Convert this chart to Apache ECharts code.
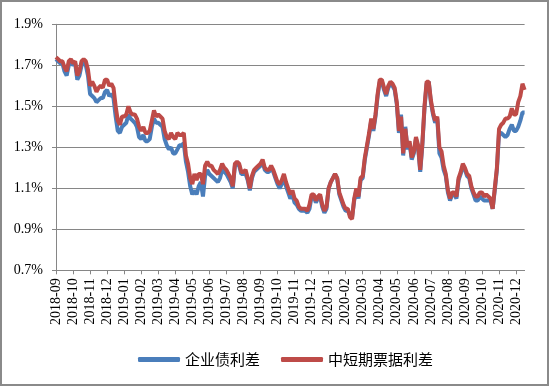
<!DOCTYPE html>
<html>
<head>
<meta charset="utf-8">
<script src="https://cdn.jsdelivr.net/npm/echarts@6/dist/echarts.min.js"></script>
<style>
html,body{margin:0;padding:0;background:#fff;}
#wrap{position:relative;width:549px;height:386px;}
#chart{position:absolute;left:0;top:0;width:549px;height:386px;}
#frame{position:absolute;left:0;top:0;width:549px;height:386px;box-sizing:border-box;border:2px solid #8a8a8a;pointer-events:none;}
</style>
</head>
<body>
<div id="wrap"><div id="chart"></div><div id="frame"></div></div>
<script>
// Month tick labels (x-axis)
const months = ['2018-09','2018-10','2018-11','2018-12','2019-01','2019-02','2019-03','2019-04',
  '2019-05','2019-06','2019-07','2019-08','2019-09','2019-10','2019-11','2019-12',
  '2020-01','2020-02','2020-03','2020-04','2020-05','2020-06','2020-07','2020-08',
  '2020-09','2020-10','2020-11','2020-12'];
// Sample days within each month
const sampleDays = ['01','04','08','12','16','20','24','28'];
const seriesNames = ['企业债利差', '中短期票据利差'];
// 企业债利差 (%)
const corpBond = [
  1.73,1.72,1.71,1.71,1.67,1.65,1.70,1.72,
  1.70,1.71,1.63,1.65,1.70,1.71,1.70,1.65,
  1.56,1.55,1.54,1.52,1.53,1.54,1.54,1.57,
  1.58,1.55,1.56,1.54,1.45,1.38,1.37,1.40,
  1.41,1.42,1.46,1.44,1.43,1.42,1.40,1.35,
  1.34,1.36,1.33,1.33,1.34,1.40,1.44,1.42,
  1.42,1.41,1.40,1.34,1.31,1.29,1.30,1.27,
  1.27,1.29,1.31,1.31,1.32,1.23,1.18,1.11,
  1.07,1.09,1.07,1.11,1.13,1.06,1.16,1.19,
  1.17,1.16,1.15,1.14,1.13,1.15,1.19,1.18,
  1.17,1.15,1.13,1.10,1.21,1.22,1.21,1.17,
  1.17,1.17,1.14,1.09,1.15,1.18,1.19,1.20,
  1.21,1.23,1.19,1.18,1.18,1.20,1.18,1.15,
  1.12,1.10,1.12,1.15,1.11,1.08,1.05,1.07,
  1.03,1.02,1.00,0.99,0.99,0.99,0.98,1.00,
  1.06,1.06,1.03,1.05,1.06,1.01,0.98,1.00,
  1.10,1.13,1.15,1.17,1.15,1.07,1.04,1.01,
  0.99,0.99,0.97,0.96,1.04,1.09,1.05,1.14,
  1.15,1.24,1.30,1.36,1.43,1.38,1.45,1.55,
  1.62,1.62,1.58,1.55,1.59,1.61,1.60,1.58,
  1.51,1.37,1.46,1.26,1.40,1.29,1.32,1.24,
  1.27,1.34,1.30,1.18,1.31,1.49,1.61,1.62,
  1.52,1.46,1.42,1.44,1.27,1.25,1.19,1.16,
  1.08,1.04,1.07,1.07,1.05,1.14,1.17,1.21,
  1.19,1.16,1.15,1.10,1.07,1.04,1.04,1.06,
  1.05,1.04,1.04,1.04,1.04,1.00,1.09,1.19,
  1.37,1.37,1.36,1.35,1.36,1.39,1.41,1.38,
  1.38,1.40,1.43,1.47,1.47
];
// 中短期票据利差 (%)
const mtnBill = [
  1.74,1.73,1.72,1.72,1.69,1.67,1.72,1.73,
  1.71,1.72,1.65,1.67,1.72,1.73,1.72,1.68,
  1.60,1.62,1.60,1.57,1.59,1.60,1.59,1.63,
  1.63,1.60,1.61,1.59,1.50,1.43,1.41,1.45,
  1.45,1.46,1.50,1.47,1.46,1.46,1.44,1.40,
  1.38,1.40,1.37,1.37,1.38,1.43,1.48,1.45,
  1.46,1.45,1.44,1.38,1.35,1.34,1.37,1.35,
  1.34,1.37,1.36,1.36,1.37,1.26,1.22,1.15,
  1.12,1.17,1.14,1.17,1.17,1.12,1.21,1.23,
  1.21,1.21,1.19,1.18,1.17,1.19,1.22,1.20,
  1.19,1.17,1.15,1.11,1.22,1.23,1.22,1.18,
  1.18,1.19,1.15,1.10,1.16,1.19,1.20,1.21,
  1.22,1.24,1.20,1.19,1.19,1.21,1.19,1.16,
  1.13,1.12,1.14,1.17,1.13,1.10,1.07,1.09,
  1.05,1.04,1.01,1.00,1.00,1.00,0.99,1.02,
  1.07,1.07,1.04,1.06,1.07,1.02,0.99,1.01,
  1.10,1.13,1.15,1.17,1.15,1.08,1.05,1.02,
  1.00,1.00,0.96,0.95,1.05,1.10,1.06,1.15,
  1.16,1.25,1.31,1.37,1.44,1.39,1.46,1.56,
  1.63,1.63,1.59,1.56,1.60,1.62,1.61,1.59,
  1.52,1.38,1.45,1.27,1.39,1.30,1.33,1.25,
  1.28,1.35,1.31,1.19,1.32,1.50,1.62,1.62,
  1.53,1.47,1.43,1.45,1.30,1.28,1.21,1.17,
  1.09,1.05,1.08,1.08,1.06,1.15,1.18,1.22,
  1.20,1.17,1.16,1.11,1.08,1.06,1.06,1.08,
  1.08,1.06,1.07,1.06,1.05,1.00,1.10,1.20,
  1.39,1.41,1.42,1.44,1.44,1.45,1.49,1.46,
  1.46,1.52,1.55,1.61,1.58
];

const perMonth = sampleDays.length;
const categories = [];
for (let m = 0; m < months.length; m++) {
  for (let d = 0; d < perMonth; d++) {
    if (categories.length < mtnBill.length) categories.push(months[m] + '-' + sampleDays[d]);
  }
}

const serif = "'Liberation Serif','Times New Roman',serif";
const chart = echarts.init(document.getElementById('chart'), null, {renderer: 'canvas'});
chart.setOption({
  animation: false,
  backgroundColor: '#ffffff',
  grid: {left: 56, right: 24.4, top: 24.3, bottom: 115.7, containLabel: false, outerBoundsMode: 'none'},
  legend: {
    left: 133, top: 347,
    itemWidth: 42, itemHeight: 5, itemGap: 21,
    icon: 'roundRect',
    textStyle: {fontFamily: "'Noto Sans CJK SC',sans-serif", fontSize: 15, color: '#000'},
    data: seriesNames
  },
  xAxis: {
    type: 'category',
    data: categories,
    boundaryGap: false,
    axisLine: {lineStyle: {color: '#868686', width: 1}},
    axisTick: {show: true, length: 4, interval: function (i) { return i % perMonth === 0; }, lineStyle: {color: '#868686'}},
    axisLabel: {
      interval: function (i) { return i % perMonth === 0; },
      rotate: 90, margin: 8,
      fontFamily: serif, fontSize: 14, color: '#000',
      formatter: function (v) { return v.slice(0, 7); }
    },
    splitLine: {show: false}
  },
  yAxis: {
    type: 'value',
    min: 0.7, max: 1.9, interval: 0.2,
    axisLine: {show: true, lineStyle: {color: '#868686', width: 1}},
    axisTick: {show: true, length: 4, lineStyle: {color: '#868686'}},
    axisLabel: {
      margin: 13, fontFamily: serif, fontSize: 14, color: '#000',
      formatter: function (v) { return v.toFixed(1) + '%'; }
    },
    splitLine: {show: true, lineStyle: {color: '#868686', width: 1}}
  },
  series: [
    {name: seriesNames[0], type: 'line', data: corpBond, showSymbol: false, symbol: 'none',
     lineStyle: {color: '#4a7ebb', width: 4}, itemStyle: {color: '#4a7ebb'}, z: 2},
    {name: seriesNames[1], type: 'line', data: mtnBill, showSymbol: false, symbol: 'none',
     lineStyle: {color: '#be4b48', width: 4}, itemStyle: {color: '#be4b48'}, z: 3}
  ]
});
</script>
</body>
</html>
